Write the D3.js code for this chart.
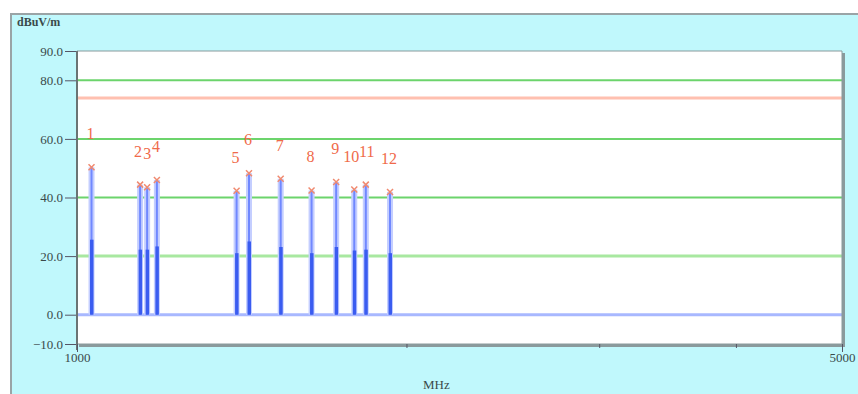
<!DOCTYPE html>
<html>
<head>
<meta charset="utf-8">
<script src="https://cdn.jsdelivr.net/npm/d3@7"></script>
<style>
  html, body { margin: 0; padding: 0; background: #fff; }
  svg { display: block; }
  .axis text { font-family: "Liberation Serif", "DejaVu Serif", serif; font-size: 13px; fill: #3a4a4a; }
  .axis path { display: none; }
  .axis line { stroke: #556; }
</style>
</head>
<body>
<div id="chart"></div>
<script>
// marker frequencies (MHz), peak and average levels (dBuV/m)
const freqs = [1031, 1142, 1159, 1183, 1399, 1436, 1535, 1638, 1725, 1792, 1836, 1932];
const peaks = [50.3, 44.4, 43.5, 46.0, 42.3, 48.3, 46.4, 42.4, 45.3, 42.7, 44.4, 41.9];
const avgs  = [25.6, 22.2, 22.2, 23.3, 21.0, 25.0, 23.1, 21.0, 23.1, 21.9, 22.2, 21.0];
const markerLabels = ['1', '2', '3', '4', '5', '6', '7', '8', '9', '10', '11', '12'];

const yTicks = [90, 80, 60, 40, 20, 0, -10];
const xTicks = [1000, 2000, 3000, 4000, 5000];
const xLabelled = [1000, 5000];
const gridLevels = [80, 60, 40];
const lowLevel = 20;
const limitLevel = 74;
const floorLevel = 0;

const W = 858, H = 394;
const plot = { left: 77, top: 51, right: 842, bottom: 344 };

const svg = d3.select('#chart').append('svg')
  .attr('width', W).attr('height', H)
  .attr('viewBox', `0 0 ${W} ${H}`);

// outer panel
svg.append('rect').attr('x', 0).attr('y', 0).attr('width', W).attr('height', H).attr('fill', '#fff');
svg.append('rect').attr('x', 11).attr('y', 14).attr('width', W).attr('height', H)
  .attr('fill', '#c0f8fc').attr('stroke', '#9aa4a6').attr('stroke-width', 2);

const x = d3.scaleLog().domain([1000, 5000]).range([plot.left, plot.right]);
const y = d3.scaleLinear().domain([-10, 90]).range([plot.bottom, plot.top]);

// plot area with shadow
svg.append('rect').attr('x', plot.left + 2).attr('y', plot.top + 2)
  .attr('width', plot.right - plot.left + 1).attr('height', plot.bottom - plot.top + 1)
  .attr('fill', '#8a9a9c');
svg.append('rect').attr('x', plot.left).attr('y', plot.top)
  .attr('width', plot.right - plot.left).attr('height', plot.bottom - plot.top)
  .attr('fill', '#fff');

const g = svg.append('g');

// horizontal reference lines
g.selectAll('line.grid').data(gridLevels).join('line')
  .attr('class', 'grid')
  .attr('x1', plot.left).attr('x2', plot.right)
  .attr('y1', d => y(d)).attr('y2', d => y(d))
  .attr('stroke', '#6cd46c').attr('stroke-width', 2);
g.append('line')
  .attr('x1', plot.left).attr('x2', plot.right)
  .attr('y1', y(lowLevel)).attr('y2', y(lowLevel))
  .attr('stroke', '#a8e8a0').attr('stroke-width', 3);
g.append('line')
  .attr('x1', plot.left).attr('x2', plot.right)
  .attr('y1', y(limitLevel)).attr('y2', y(limitLevel))
  .attr('stroke', '#ffc0b0').attr('stroke-width', 3);

// noise floor trace
g.append('line')
  .attr('x1', plot.left).attr('x2', plot.right)
  .attr('y1', y(floorLevel)).attr('y2', y(floorLevel))
  .attr('stroke', '#a8b8ff').attr('stroke-width', 3);

const data = freqs.map((f, i) => ({ f, peak: peaks[i], avg: avgs[i], label: markerLabels[i] }));

// peak bars: light halo + thin core
g.selectAll('rect.halo').data(data).join('rect')
  .attr('class', 'halo')
  .attr('x', d => x(d.f) - 3).attr('width', 6)
  .attr('y', d => y(d.peak)).attr('height', d => y(0) - y(d.peak))
  .attr('fill', '#c4ceff');
g.selectAll('line.core').data(data).join('line')
  .attr('class', 'core')
  .attr('x1', d => x(d.f)).attr('x2', d => x(d.f))
  .attr('y1', d => y(d.peak)).attr('y2', y(0))
  .attr('stroke', '#7088ff').attr('stroke-width', 2);

// average bars
g.selectAll('rect.avg').data(data).join('rect')
  .attr('class', 'avg')
  .attr('x', d => x(d.f) - 1.5).attr('width', 3.5)
  .attr('y', d => y(d.avg)).attr('height', d => y(0) - y(d.avg))
  .attr('fill', '#3a5cf0');

// peak markers
const mk = 3;
const marks = g.selectAll('g.mark').data(data).join('g')
  .attr('class', 'mark')
  .attr('transform', d => `translate(${x(d.f)},${y(d.peak)})`);
marks.append('path')
  .attr('d', `M${-mk},${-mk}L${mk},${mk}M${-mk},${mk}L${mk},${-mk}`)
  .attr('stroke', '#f08a70').attr('stroke-width', 1.5).attr('fill', 'none');

// crowded neighbours get nudged apart a little
const nudge = { '2': -1, '3': 1, '10': -2, '11': 2 };
g.selectAll('text.lbl').data(data).join('text')
  .attr('class', 'lbl')
  .attr('x', d => x(d.f) - 1 + (nudge[d.label] || 0))
  .attr('y', d => y(d.peak) - 28)
  .attr('text-anchor', 'middle')
  .attr('font-family', '"Liberation Serif", serif')
  .attr('font-size', 16)
  .attr('fill', '#f06a4a')
  .text(d => d.label);

// plot frame
svg.append('line').attr('x1', plot.left).attr('x2', plot.right)
  .attr('y1', plot.top).attr('y2', plot.top).attr('stroke', '#8a9a9c');
svg.append('line').attr('x1', plot.left).attr('x2', plot.right)
  .attr('y1', plot.bottom).attr('y2', plot.bottom).attr('stroke', '#8a9a9c');
svg.append('line').attr('x1', plot.right).attr('x2', plot.right)
  .attr('y1', plot.top).attr('y2', plot.bottom).attr('stroke', '#8a9a9c');

// axes
svg.append('g').attr('class', 'axis')
  .attr('transform', `translate(${plot.left},0)`)
  .call(d3.axisLeft(y).tickValues(yTicks).tickFormat(d3.format('.1f')).tickSize(12).tickPadding(2));
svg.append('line').attr('x1', plot.left).attr('x2', plot.left)
  .attr('y1', plot.top).attr('y2', plot.bottom + 6)
  .attr('stroke', '#6a7474').attr('stroke-width', 2);

const xAxis = svg.append('g').attr('class', 'axis')
  .attr('transform', `translate(0,${plot.bottom})`)
  .call(d3.axisBottom(x).tickValues(xTicks)
    .tickFormat(d => xLabelled.includes(d) ? String(d) : '')
    .tickSize(4).tickPadding(2));
xAxis.selectAll('.tick line')
  .attr('y2', d => xLabelled.includes(d) ? 8 : 4)
  .attr('stroke', '#778');
xAxis.selectAll('.tick text').attr('dy', '0.9em');

svg.append('text').attr('x', 17).attr('y', 26)
  .attr('font-family', '"Liberation Serif", serif').attr('font-size', 12).attr('font-weight', 'bold')
  .attr('fill', '#3a4a4a').text('dBuV/m');
svg.append('text').attr('x', 423).attr('y', 389)
  .attr('font-family', '"Liberation Serif", serif').attr('font-size', 13)
  .attr('fill', '#3a4a4a').text('MHz');
</script>
</body>
</html>
